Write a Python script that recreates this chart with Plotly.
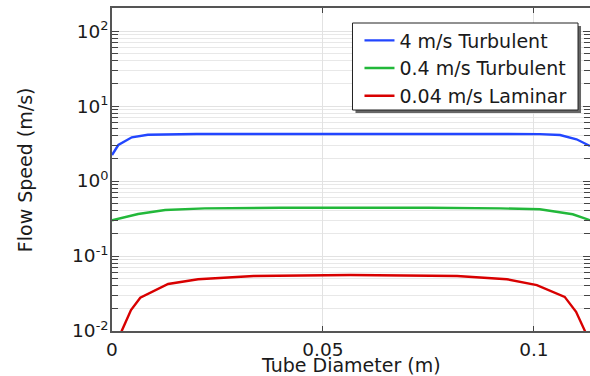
import plotly.graph_objects as go

# ---- data ----
x_blue = [0, 0.0015, 0.0047, 0.0085, 0.02, 0.04, 0.0565, 0.075, 0.092, 0.1014, 0.1062, 0.1101, 0.1133]
y_blue = [2.22, 3.02, 3.83, 4.14, 4.24, 4.26, 4.27, 4.26, 4.24, 4.22, 4.1, 3.6, 2.93]

x_green = [0, 0.0062, 0.0126, 0.022, 0.04, 0.0565, 0.075, 0.092, 0.1014, 0.1092, 0.1133]
y_green = [0.30, 0.363, 0.41, 0.432, 0.44, 0.442, 0.44, 0.432, 0.42, 0.36, 0.30]

x_red = [0.0005, 0.0023, 0.0045, 0.0067, 0.0133, 0.0204, 0.0336, 0.0565, 0.0818, 0.0936, 0.1007, 0.1073, 0.1100, 0.1121, 0.1128]
y_red = [0.004, 0.01, 0.019, 0.0278, 0.0424, 0.049, 0.054, 0.0558, 0.054, 0.049, 0.041, 0.0285, 0.018, 0.01, 0.005]

names = ["4 m/s Turbulent", "0.4 m/s Turbulent", "0.04 m/s Laminar"]
colors = ["#2246ff", "#22b83a", "#d80000"]

x_tickvals = [0, 0.05, 0.1]
x_ticktext = ["0", "0.05", "0.1"]
y_tickvals = [0.01, 0.1, 1, 10, 100]
y_ticktext = ["10<sup>-2</sup>", "10<sup>-1</sup>", "10<sup>0</sup>", "10<sup>1</sup>", "10<sup>2</sup>"]
y_minor = [m * d for d in [0.01, 0.1, 1, 10, 100] for m in range(2, 10)]

FONT = "DejaVu Sans"
FS = 19
TFS = 18.5

fig = go.Figure()
for xs, ys, n, c in zip([x_blue, x_green, x_red], [y_blue, y_green, y_red], names, colors):
    fig.add_trace(go.Scatter(x=xs, y=ys, mode="lines", name=n,
                             line=dict(color=c, width=2.4), cliponaxis=True))

L, T, R, B = 112, 8, 591, 331      # plot area in window pixels
W, H = 590, 376
pw, ph = R - L, B - T

def px2x(p):
    return (p - L) / pw

def px2y(p):
    return (B - p) / ph

fig.update_layout(
    width=W, height=H,
    margin=dict(l=L, r=0, t=T, b=H - B, pad=0, autoexpand=False),
    paper_bgcolor="white", plot_bgcolor="white",
    font=dict(family=FONT, size=FS, color="#1a1a1a"),
    showlegend=True,
    legend=dict(x=px2x(360), y=px2y(21.5), xanchor="left", yanchor="top",
                bgcolor="rgba(0,0,0,0)", borderwidth=0,
                font=dict(family=FONT, size=FS, color="#1a1a1a")),
    xaxis=dict(range=[0, 0.1133], tickmode="array", tickvals=x_tickvals, ticktext=x_ticktext,
               ticks="inside", ticklen=5, tickcolor="#444", showline=True, linecolor="#555",
               linewidth=1.5, mirror="ticks", showgrid=True, gridcolor="#e2e2e2", gridwidth=1,
               zeroline=False, tickfont=dict(family=FONT, size=TFS), ticklabelstandoff=1),
    yaxis=dict(type="log", range=[-2, 2.307], tickmode="array", tickvals=y_tickvals, ticktext=y_ticktext,
               ticks="inside", ticklen=7, tickcolor="#444", showline=True, linecolor="#555",
               linewidth=1.5, mirror="ticks", showgrid=True, gridcolor="#e2e2e2", gridwidth=1,
               zeroline=False, tickfont=dict(family=FONT, size=TFS), ticklabelstandoff=-2,
               minor=dict(tickmode="array", tickvals=y_minor, ticks="inside", ticklen=6,
                          tickcolor="#444", showgrid=True, gridcolor="#e8e8e8", gridwidth=1)),
    shapes=[
        dict(type="rect", xref="paper", yref="paper",
             x0=px2x(356), x1=px2x(582), y0=px2y(113), y1=px2y(26),
             fillcolor="#666", line=dict(width=0), layer="above"),
        dict(type="rect", xref="paper", yref="paper",
             x0=px2x(353), x1=px2x(579), y0=px2y(110), y1=px2y(23),
             fillcolor="white", line=dict(color="#222", width=1), layer="above"),
    ],
    annotations=[
        dict(text="Tube Diameter (m)", xref="paper", yref="paper", x=px2x(352), y=px2y(365.5),
             xanchor="center", yanchor="middle", showarrow=False,
             font=dict(family=FONT, size=FS, color="#1a1a1a")),
        dict(text="Flow Speed (m/s)", xref="paper", yref="paper", x=px2x(25), y=px2y(170),
             xanchor="center", yanchor="middle", textangle=-90, showarrow=False,
             font=dict(family=FONT, size=FS, color="#1a1a1a")),
    ],
)

fig.write_html("out.html",
               config={"displayModeBar": False},
               post_script="document.body.style.margin='0';document.body.style.overflow='hidden';")
